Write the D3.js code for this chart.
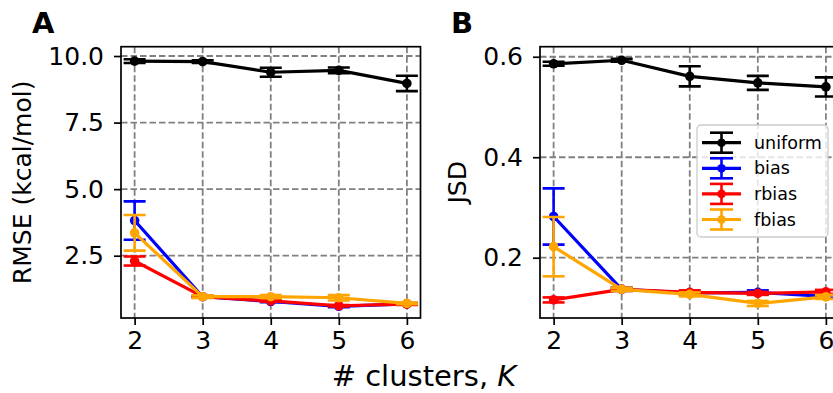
<!DOCTYPE html>
<html>
<head>
<meta charset="utf-8">
<script src="https://cdn.jsdelivr.net/npm/d3@7"></script>
<style>
  body { margin: 0; background: #fff; }
  text { font-family: "DejaVu Sans", sans-serif; fill: #000; }
</style>
</head>
<body>
<div class="plot"></div>
<script>
var W = 833, H = 393;

// data
var clusters = [2, 3, 4, 5, 6];
var seriesNames = ['uniform', 'bias', 'rbias', 'fbias'];
var seriesColors = ['#000000', '#0000ff', '#ff0000', '#ffa500'];

var rmseUniform = [9.81, 9.79, 9.39, 9.46, 8.97];
var rmseUniformErr = [0.07, 0.05, 0.17, 0.11, 0.29];
var rmseBias = [3.82, 0.96, 0.78, 0.60, 0.69];
var rmseBiasErr = [0.72, 0.03, 0.03, 0.03, 0.03];
var rmseRbias = [2.30, 0.96, 0.80, 0.62, 0.68];
var rmseRbiasErr = [0.17, 0.03, 0.03, 0.03, 0.03];
var rmseFbias = [3.36, 0.96, 0.96, 0.92, 0.71];
var rmseFbiasErr = [0.67, 0.05, 0.06, 0.10, 0.03];

var jsdUniform = [0.586, 0.593, 0.561, 0.548, 0.540];
var jsdUniformErr = [0.004, 0.003, 0.020, 0.014, 0.019];
var jsdBias = [0.282, 0.137, 0.130, 0.131, 0.123];
var jsdBiasErr = [0.056, 0.003, 0.003, 0.004, 0.003];
var jsdRbias = [0.116, 0.137, 0.131, 0.129, 0.132];
var jsdRbiasErr = [0.005, 0.003, 0.004, 0.003, 0.004];
var jsdFbias = [0.222, 0.137, 0.127, 0.109, 0.122];
var jsdFbiasErr = [0.059, 0.003, 0.004, 0.005, 0.004];

var rmseTicks = [2.5, 5.0, 7.5, 10.0];
var jsdTicks = [0.2, 0.4, 0.6];

var panels = [
  {label: 'A', ylabel: 'RMSE (kcal/mol)', left: 121, ydom: [0.16, 10.35], yticks: rmseTicks, fmt: d3.format('.1f'),
   vals: [rmseUniform, rmseBias, rmseRbias, rmseFbias], errs: [rmseUniformErr, rmseBiasErr, rmseRbiasErr, rmseFbiasErr],
   labX: 32, ylabX: 31, legend: false},
  {label: 'B', ylabel: 'JSD', left: 540, ydom: [0.080, 0.620], yticks: jsdTicks, fmt: d3.format('.1f'),
   vals: [jsdUniform, jsdBias, jsdRbias, jsdFbias], errs: [jsdUniformErr, jsdBiasErr, jsdRbiasErr, jsdFbiasErr],
   labX: 451, ylabX: 466, legend: true}
];

var axTop = 46.7, axBottom = 318, pw = 299.5;

var svg = d3.select('.plot').append('svg')
    .attr('width', W).attr('height', H);

panels.forEach(function(p, pi){
  var x = d3.scaleLinear().domain([1.8, 6.2]).range([p.left, p.left + pw]);
  var y = d3.scaleLinear().domain(p.ydom).range([axBottom, axTop]);

  var clipId = 'clip' + pi;
  svg.append('clipPath').attr('id', clipId)
    .append('rect').attr('x', p.left).attr('y', axTop).attr('width', pw).attr('height', axBottom - axTop);

  var g = svg.append('g');

  // grid
  var grid = g.append('g').attr('clip-path', 'url(#' + clipId + ')');
  grid.selectAll('.gx').data(clusters).enter().append('line')
    .attr('x1', function(d){return x(d)}).attr('x2', function(d){return x(d)})
    .attr('y1', axTop).attr('y2', axBottom)
    .attr('stroke', '#808080').attr('stroke-width', 1.8).attr('stroke-dasharray', '6.5,3');
  grid.selectAll('.gy').data(p.yticks).enter().append('line')
    .attr('y1', function(d){return y(d)}).attr('y2', function(d){return y(d)})
    .attr('x1', p.left).attr('x2', p.left + pw)
    .attr('stroke', '#808080').attr('stroke-width', 1.8).attr('stroke-dasharray', '6.5,3');

  // series
  var plot = g.append('g').attr('clip-path', 'url(#' + clipId + ')');
  var line = d3.line().x(function(d){return x(d[0])}).y(function(d){return y(d[1])});
  p.vals.forEach(function(vals, si){
    var col = seriesColors[si];
    var pts = clusters.map(function(k, i){return [k, vals[i], p.errs[si][i]]});
    var sg = plot.append('g');
    sg.append('path').datum(pts).attr('d', line)
      .attr('fill', 'none').attr('stroke', col).attr('stroke-width', 3.2).attr('stroke-linejoin', 'round');
    var eb = sg.selectAll('.eb').data(pts).enter().append('g');
    eb.append('line')
      .attr('x1', function(d){return x(d[0])}).attr('x2', function(d){return x(d[0])})
      .attr('y1', function(d){return y(d[1] - d[2])}).attr('y2', function(d){return y(d[1] + d[2])})
      .attr('stroke', col).attr('stroke-width', 2.6);
    [-1, 1].forEach(function(s){
      eb.append('line')
        .attr('x1', function(d){return x(d[0]) - 11}).attr('x2', function(d){return x(d[0]) + 11})
        .attr('y1', function(d){return y(d[1] + s * d[2])}).attr('y2', function(d){return y(d[1] + s * d[2])})
        .attr('stroke', col).attr('stroke-width', 2.6);
    });
    eb.append('circle')
      .attr('cx', function(d){return x(d[0])}).attr('cy', function(d){return y(d[1])})
      .attr('r', 4.8).attr('fill', col);
  });

  // spines
  g.append('rect').attr('x', p.left).attr('y', axTop).attr('width', pw).attr('height', axBottom - axTop)
    .attr('fill', 'none').attr('stroke', '#000').attr('stroke-width', 1.7);

  // axes
  var xAxis = d3.axisBottom(x).tickValues(clusters).tickSize(7).tickPadding(6).tickFormat(d3.format('d'));
  var gx = g.append('g').attr('transform', 'translate(0,' + axBottom + ')').call(xAxis);
  var yAxis = d3.axisLeft(y).tickValues(p.yticks).tickSize(7).tickPadding(10).tickFormat(p.fmt);
  var gy = g.append('g').attr('transform', 'translate(' + p.left + ',0)').call(yAxis);
  [gx, gy].forEach(function(a){
    a.select('.domain').remove();
    a.selectAll('.tick line').attr('stroke', '#000').attr('stroke-width', 1.7);
    a.selectAll('.tick text').style('font-size', '25px').attr('fill', '#000');
  });

  // labels
  svg.append('text').attr('x', p.labX).attr('y', 33)
    .style('font-size', '29px').style('font-weight', 'bold').text(p.label);
  svg.append('text')
    .attr('transform', 'translate(' + p.ylabX + ',' + ((axTop + axBottom) / 2) + ') rotate(-90)')
    .attr('text-anchor', 'middle').style('font-size', '25px').text(p.ylabel);

  if (p.legend) {
    var lg = svg.append('g');
    lg.append('rect').attr('x', 697).attr('y', 125).attr('width', 131).attr('height', 112)
      .attr('rx', 4).attr('fill', '#fff').attr('fill-opacity', 0.8)
      .attr('stroke', '#cccccc').attr('stroke-width', 1.3);
    seriesNames.forEach(function(name, si){
      var cy = 142.7 + si * 25.6, col = seriesColors[si];
      var e = lg.append('g');
      e.append('line').attr('x1', 702).attr('x2', 741).attr('y1', cy).attr('y2', cy)
        .attr('stroke', col).attr('stroke-width', 3.2);
      e.append('line').attr('x1', 721.5).attr('x2', 721.5).attr('y1', cy - 10).attr('y2', cy + 10)
        .attr('stroke', col).attr('stroke-width', 2.6);
      [-10, 10].forEach(function(o){
        e.append('line').attr('x1', 710).attr('x2', 733).attr('y1', cy + o).attr('y2', cy + o)
          .attr('stroke', col).attr('stroke-width', 2.6);
      });
      e.append('circle').attr('cx', 721.5).attr('cy', cy).attr('r', 4.3).attr('fill', col);
      e.append('text').attr('x', 754).attr('y', cy + 6).style('font-size', '17.5px').text(name);
    });
  }
});

// shared x label
var xl = svg.append('text').attr('x', 424).attr('y', 386).attr('text-anchor', 'middle')
  .style('font-size', '29px');
xl.append('tspan').text('# clusters, ');
xl.append('tspan').style('font-style', 'italic').text('K');
</script>
</body>
</html>
